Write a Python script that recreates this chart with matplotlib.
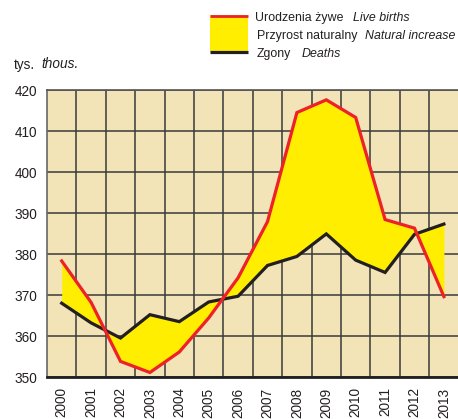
import matplotlib
matplotlib.use("Agg")
import matplotlib.pyplot as plt
from matplotlib.patches import Rectangle
from matplotlib.lines import Line2D

years = [2000, 2001, 2002, 2003, 2004, 2005, 2006, 2007, 2008, 2009, 2010, 2011, 2012, 2013]
births = [378.3, 368.2, 353.8, 351.1, 356.1, 364.4, 374.2, 387.9, 414.5, 417.6, 413.3, 388.4, 386.3, 369.6]
deaths = [368.0, 363.2, 359.5, 365.2, 363.5, 368.3, 369.7, 377.2, 379.4, 384.9, 378.5, 375.5, 384.8, 387.3]
yticks = [350, 360, 370, 380, 390, 400, 410, 420]

plt.rcParams['font.family'] = ['Liberation Sans', 'DejaVu Sans']
TXT = "#231F20"

W, H = 458, 419
fig = plt.figure(figsize=(W / 100, H / 100), dpi=100)
ax = fig.add_axes([47 / W, 1 - 377 / H, 411.6 / W, 287 / H])
ax.set_facecolor("#F2E4B6")

ax.fill_between(years, births, deaths, color="#FFEE00", lw=0, zorder=2)
ax.plot(years, deaths, color=TXT, lw=2.3, zorder=3, solid_joinstyle="miter")
ax.plot(years, births, color="#EE2028", lw=2.3, zorder=4, solid_joinstyle="miter")

ax.set_xlim(1999.5, 2013.5)
ax.set_ylim(350, 420)
ax.set_yticks(yticks)
ax.set_xticks(years)
ax.set_xticks([y + 0.5 for y in years[:-1]], minor=True)
ax.set_xticklabels([str(y) for y in years], rotation=90, fontsize=9.8, color=TXT)
ax.set_yticklabels([str(v) for v in yticks], fontsize=9.8, color=TXT)
ax.tick_params(axis="both", which="both", length=0)
ax.tick_params(axis="x", pad=7.5)
ax.tick_params(axis="y", pad=7.3)
ax.grid(True, axis="x", which="minor", color="#3a3a3a", lw=1.1, zorder=1)
ax.grid(True, axis="y", which="major", color="#3a3a3a", lw=1.1, zorder=1)
ax.grid(False, axis="x", which="major")
ax.spines["right"].set_visible(False)
ax.spines["top"].set_color("#555555")
ax.spines["top"].set_linewidth(1.2)
ax.spines["left"].set_color("#666666")
ax.spines["left"].set_linewidth(1.2)
ax.spines["bottom"].set_color(TXT)
ax.spines["bottom"].set_linewidth(2.0)

# unit label
fig.text(14 / W, 1 - 68.5 / H, "tys.", fontsize=9.8, va="baseline", ha="left", color=TXT)
fig.text(41 / W, 1 - 68.5 / H, "thous.", fontsize=9.8, va="baseline", ha="left", style="italic", color=TXT)

# legend
fig.patches.append(Rectangle((209.5 / W, 1 - 52 / H), 38.5 / W, 36.5 / H, transform=fig.transFigure,
                             facecolor="#FFEE00", edgecolor="none"))
fig.lines.append(Line2D([209.5 / W, 248 / W], [1 - 15.7 / H] * 2, transform=fig.transFigure,
                        color="#EE2028", lw=2.0, solid_capstyle="butt"))
fig.lines.append(Line2D([209.5 / W, 248 / W], [1 - 52.3 / H] * 2, transform=fig.transFigure,
                        color=TXT, lw=2.3, solid_capstyle="butt"))
rows = [
    (20.7, 255, "Urodzenia żywe", 353, "Live births"),
    (39.4, 257, "Przyrost naturalny", 365, "Natural increase"),
    (57.4, 257, "Zgony", 302, "Deaths"),
]
for y, x1, t1, x2, t2 in rows:
    fig.text(x1 / W, 1 - y / H, t1, fontsize=8.9, va="baseline", ha="left", color=TXT)
    fig.text(x2 / W, 1 - y / H, t2, fontsize=8.9, va="baseline", ha="left", style="italic", color=TXT)

fig.savefig("out.png", dpi=100)
